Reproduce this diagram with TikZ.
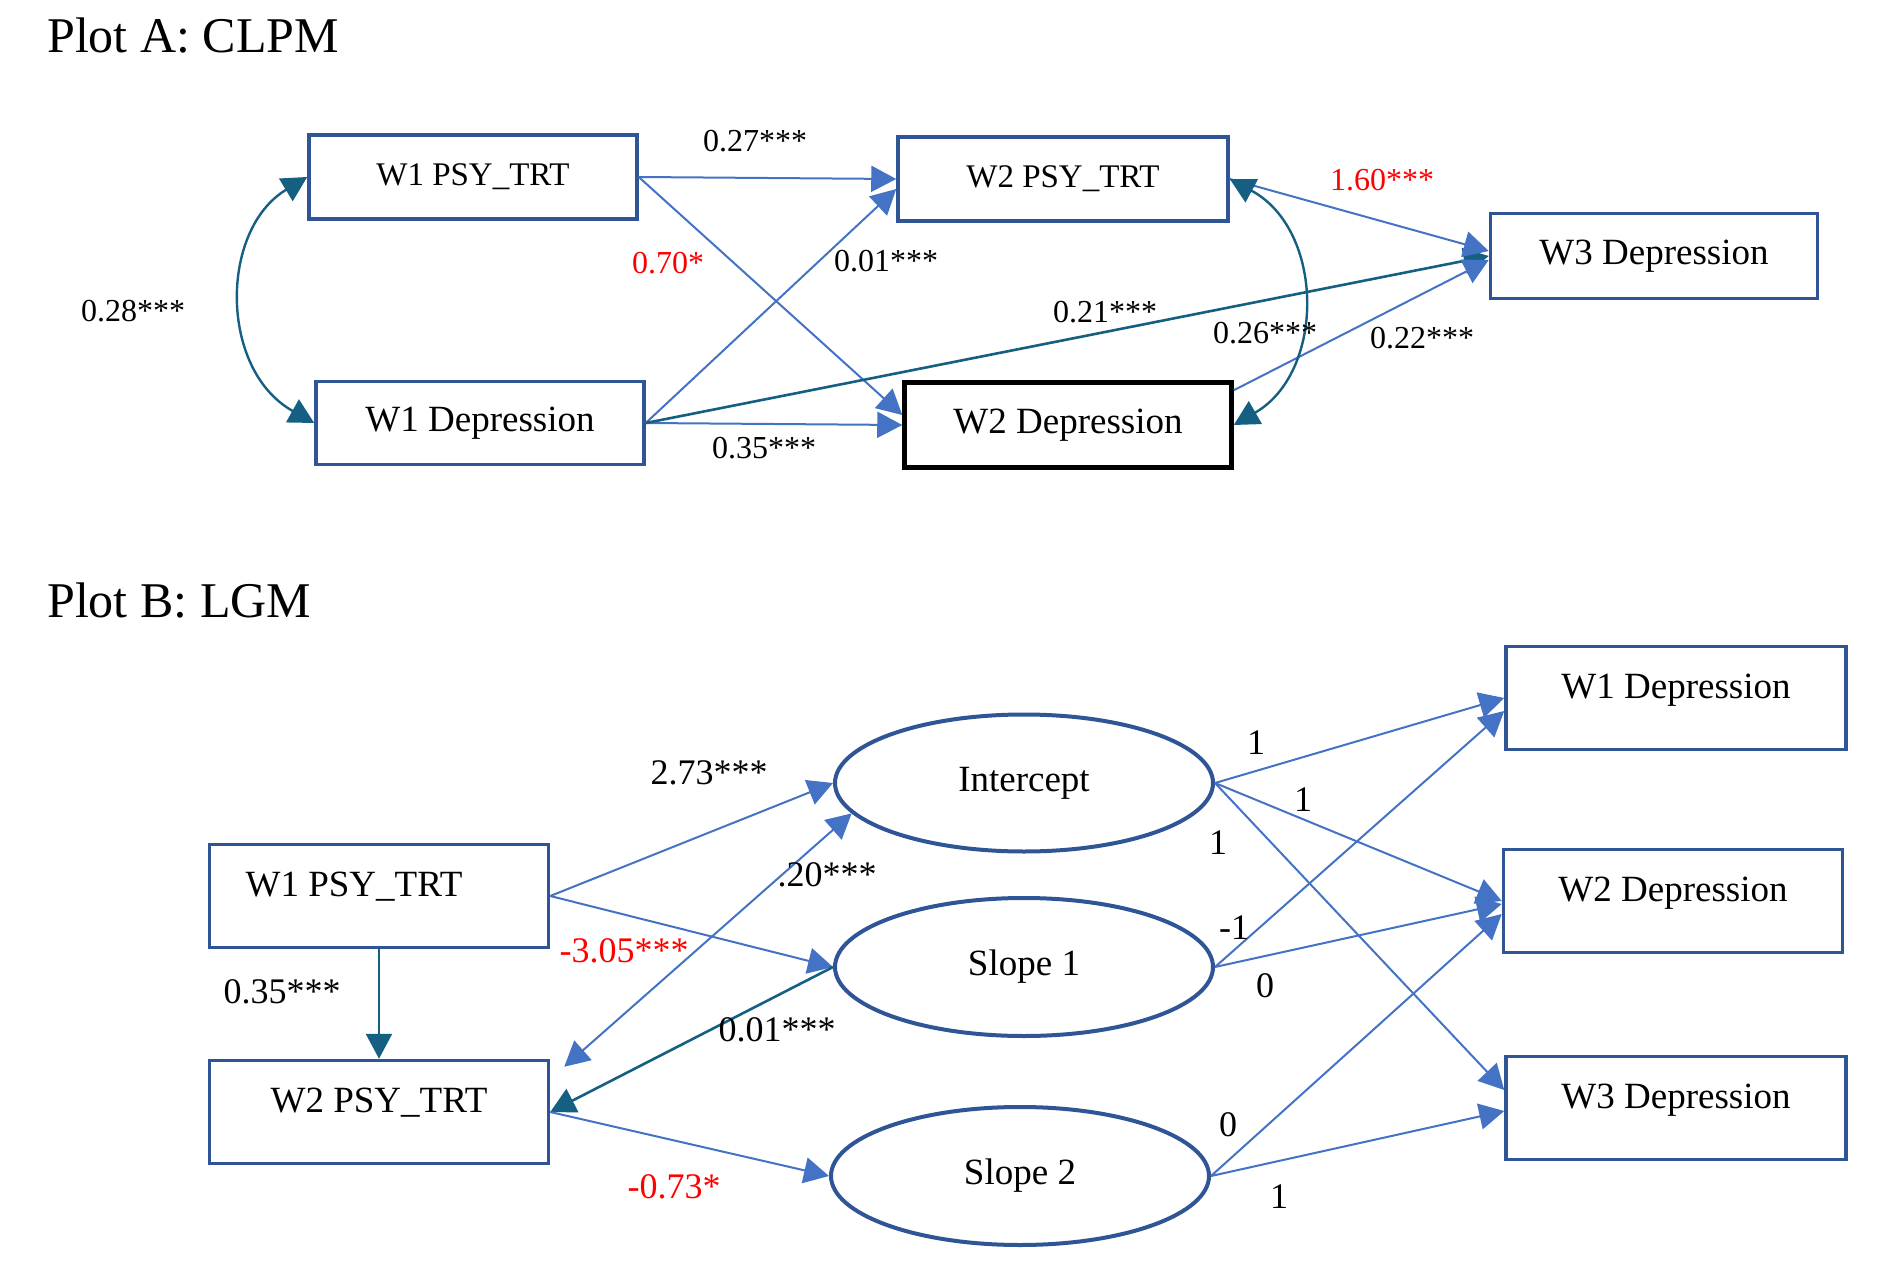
\documentclass[tikz,border=0pt]{standalone}
\usepackage{fontspec}
\setmainfont{Liberation Serif}
\usetikzlibrary{arrows.meta,shapes.geometric}
\definecolor{boxblue}{HTML}{2F5597}
\definecolor{arrblue}{HTML}{4472C4}
\definecolor{tealc}{HTML}{156082}
\definecolor{redc}{HTML}{FF0000}
\begin{document}
\begin{tikzpicture}[x=1pt,y=-1pt,
  abox/.style={draw=boxblue,line width=3.5pt,fill=white,inner sep=0pt,minimum width=328pt,minimum height=84pt},
  bbox/.style={draw=boxblue,line width=3.5pt,fill=white,inner sep=0pt,minimum width=339pt,minimum height=103pt,
    text height=14pt,text depth=14pt,font=\fontsize{37}{44}\selectfont},
  lat/.style={draw=boxblue,line width=4pt,fill=white,ellipse,inner sep=0pt,minimum width=378pt,minimum height=137pt,
    font=\fontsize{37}{44}\selectfont},
  fpsy/.style={font=\fontsize{33}{40}\selectfont},
  fdep/.style={font=\fontsize{37}{44}\selectfont},
  lbl/.style={inner sep=0pt,font=\fontsize{32}{38}\selectfont},
  lblb/.style={inner sep=0pt,font=\fontsize{36}{42}\selectfont},
  ttl/.style={inner sep=0pt,anchor=base west,font=\fontsize{50}{60}\selectfont},
  tip/.tip={Triangle[length=25pt,width=26pt]},
  arr/.style={draw=arrblue,line width=2pt,-tip},
  darr/.style={draw=arrblue,line width=2pt,tip-tip},
  tarr/.style={draw=tealc,line width=2.6pt,-tip},
  tdarr/.style={draw=tealc,line width=2.4pt,tip-tip},
  red/.style={text=redc}]
\useasboundingbox[fill=white] (0,0) rectangle (1888,1276);

% ---------------- Plot A ----------------
\node[ttl] (titleA) at (47,53) {Plot A: CLPM};

\node[abox,fpsy] (aW1psy) at (473,177) {W1 PSY\_TRT};
\node[abox,fdep,minimum height=83pt] (aW1dep) at (480,423) {W1 Depression};
\node[abox,fpsy,minimum width=330pt] (aW2psy) at (1063,179) {W2 PSY\_TRT};
\node[abox,fdep,draw=black,line width=4.5pt,minimum width=327pt,minimum height=85pt] (aW2dep) at (1068,425) {W2 Depression};
\node[abox,fdep,minimum width=327pt,minimum height=85pt] (aW3dep) at (1654,256) {W3 Depression};

\draw[arr] (aW1psy.east) -- (aW2psy.west);
\draw[arr] (aW1psy.east) -- ([yshift=10pt]aW2dep.west);
\draw[arr] (aW1dep.east) -- ([yshift=-10pt]aW2psy.west);
\draw[arr] (aW1dep.east) -- (aW2dep.west);
\draw[tarr] (aW1dep.east) -- (aW3dep.west);
\draw[arr] (aW2psy.east) -- ([yshift=5pt]aW3dep.west);
\draw[arr] ([yshift=-10pt]aW2dep.north east) -- ([yshift=-4pt]aW3dep.west);
\draw[tdarr] (aW1psy.west) .. controls +(-88,53) and +(-95,-53) .. (aW1dep.west);
\draw[tdarr] (aW2psy.east) .. controls +(95,51) and +(92,-53) .. (aW2dep.east);

\node[lbl] (l027) at (755,141) {0.27***};
\node[lbl,red] (l070) at (668,263) {0.70*};
\node[lbl] (l001) at (886,261) {0.01***};
\node[lbl] (l028) at (133,311) {0.28***};
\node[lbl] (l035) at (764,448) {0.35***};
\node[lbl] (l021) at (1105,312) {0.21***};
\node[lbl] (l026) at (1265,333) {0.26***};
\node[lbl] (l022) at (1422,338) {0.22***};
\node[lbl,red] (l160) at (1382,180) {1.60***};

% ---------------- Plot B ----------------
\node[ttl] (titleB) at (47,617) {Plot B: LGM};

\node[bbox] (bW1psy) at (379,896) {W1 PSY\_TRT\kern50pt};
\node[bbox] (bW2psy) at (379,1112) {W2 PSY\_TRT};
\node[lat] (bInt) at (1024,783) {Intercept};
\node[lat,minimum height=138pt] (bS1) at (1024,967) {Slope 1};
\node[lat,minimum height=138pt] (bS2) at (1020,1176) {Slope 2};
\node[bbox,minimum width=340pt] (bW1dep) at (1676,698) {W1 Depression};
\node[bbox] (bW2dep) at (1673,901) {W2 Depression};
\node[bbox,minimum width=340pt] (bW3dep) at (1676,1108) {W3 Depression};

\coordinate (c20) at ([xshift=14pt,yshift=-8pt]bW2psy.north east);

\draw[arr] (bW1psy.east) -- (bInt.west);
\draw[arr] (bW1psy.east) -- (bS1.west);
\draw[tarr] (bW1psy.south) -- (bW2psy.north);
\draw[darr] (bInt.190) -- (c20);
\draw[tarr] (bS1.west) -- (bW2psy.east);
\draw[arr] (bW2psy.east) -- (bS2.west);
\draw[arr] (bInt.east) -- (bW1dep.west);
\draw[arr] (bInt.east) -- (bW2dep.west);
\draw[arr] (bInt.east) -- ([yshift=18pt]bW3dep.west);
\draw[arr] (bS1.east) -- ([yshift=-13pt]bW1dep.west);
\draw[arr] (bS1.east) -- ([yshift=-3pt]bW2dep.west);
\draw[arr] (bS2.east) -- ([yshift=-13pt]bW2dep.west);
\draw[arr] (bS2.east) -- ([yshift=-3pt]bW3dep.west);

\node[lblb] (m273) at (709,773) {2.73***};
\node[lblb] (m020) at (827,875) {.20***};
\node[lblb,red] (m305) at (624,951) {-3.05***};
\node[lblb] (m035) at (282,992) {0.35***};
\node[lblb] (m001) at (777,1030) {0.01***};
\node[lblb,red] (m073) at (674,1187) {-0.73*};
\node[lblb] (n1a) at (1256,743) {1};
\node[lblb] (n1b) at (1303,800) {1};
\node[lblb] (n1c) at (1218,843) {1};
\node[lblb] (nm1) at (1234,928) {-1};
\node[lblb] (n0a) at (1265,986) {0};
\node[lblb] (n0b) at (1228,1125) {0};
\node[lblb] (n1d) at (1279,1197) {1};
\end{tikzpicture}
\end{document}
